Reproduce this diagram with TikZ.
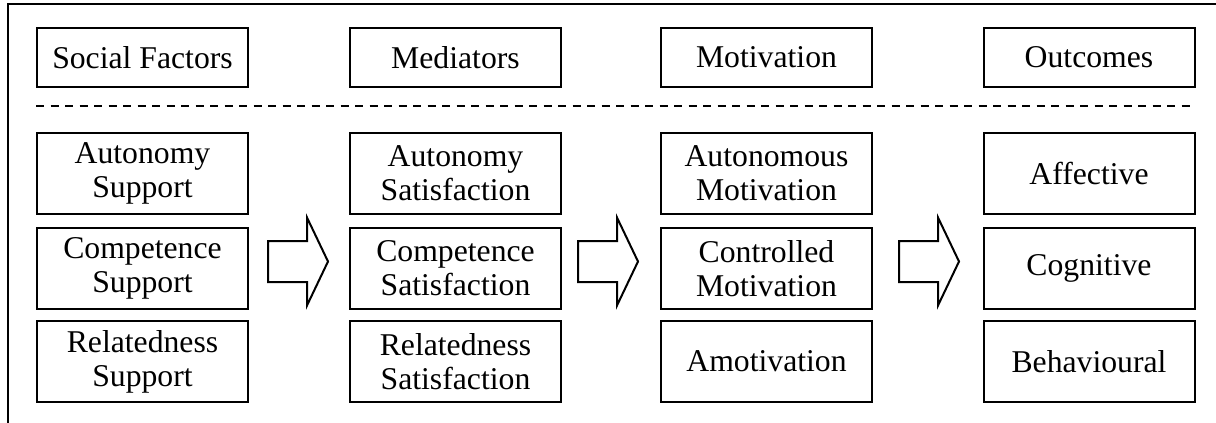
\documentclass[tikz,border=0pt]{standalone}
\usepackage{fontspec}
\setmainfont{Liberation Serif}
\begin{document}
\begin{tikzpicture}[x=1pt,y=-1pt,
  box/.style={draw,line width=2pt,rectangle,minimum width=211pt,minimum height=81pt,align=center,inner sep=0pt,
    font=\fontsize{31.7}{34}\selectfont},
  headbox/.style={box,minimum height=59pt},
  blockarrow/.style={draw,line width=2pt,line join=miter,fill=white},
  frameline/.style={line width=2pt},
  sep/.style={line width=2pt,dash pattern=on 8pt off 6.5pt}]
\useasboundingbox (0,0) rectangle (1216,423);
% frame
\coordinate (fA) at (8,423);
\coordinate (fB) at (8,4);
\coordinate (fC) at (1216,4);
\draw[frameline] (fA) -- (fB) -- (fC);
% headers
\node[headbox] (h1) at (142.5,57.5) {Social Factors};
\node[headbox] (h2) at (455.5,57.5) {Mediators};
\node[headbox] (h3) at (766.5,57.5) {Motivation};
\node[headbox] (h4) at (1089,57.5) {Outcomes};
% separator
\coordinate (sL) at (36,106);
\coordinate (sR) at (1195,106);
\draw[sep] (sL) -- (sR);
% column 1
\node[box] (a1) at (142.5,173.5) {Autonomy\\Support};
\node[box] (a2) at (142.5,268.5) {Competence\\Support};
\node[box] (a3) at (142.5,361.5) {Relatedness\\Support};
% column 2
\node[box] (b1) at (455.5,173.5) {Autonomy\\Satisfaction};
\node[box] (b2) at (455.5,268.5) {Competence\\Satisfaction};
\node[box] (b3) at (455.5,361.5) {Relatedness\\Satisfaction};
% column 3
\node[box] (c1) at (766.5,173.5) {Autonomous\\Motivation};
\node[box] (c2) at (766.5,268.5) {Controlled\\Motivation};
\node[box] (c3) at (766.5,361.5) {Amotivation};
% column 4
\node[box] (d1) at (1089,173.5) {Affective};
\node[box] (d2) at (1089,268.5) {Cognitive};
\node[box] (d3) at (1089,361.5) {Behavioural};
% block arrows
\foreach \n/\x in {1/268,2/578,3/899}{
  \coordinate (arr\n) at (\x,261.5);
  \draw[blockarrow] (arr\n) ++(0,-20.5) -- ++(39,0) -- ++(0,-23.5) -- ++(21,44) -- ++(-21,44) -- ++(0,-23.5) -- ++(-39,0) -- cycle;
}
\end{tikzpicture}
\end{document}
